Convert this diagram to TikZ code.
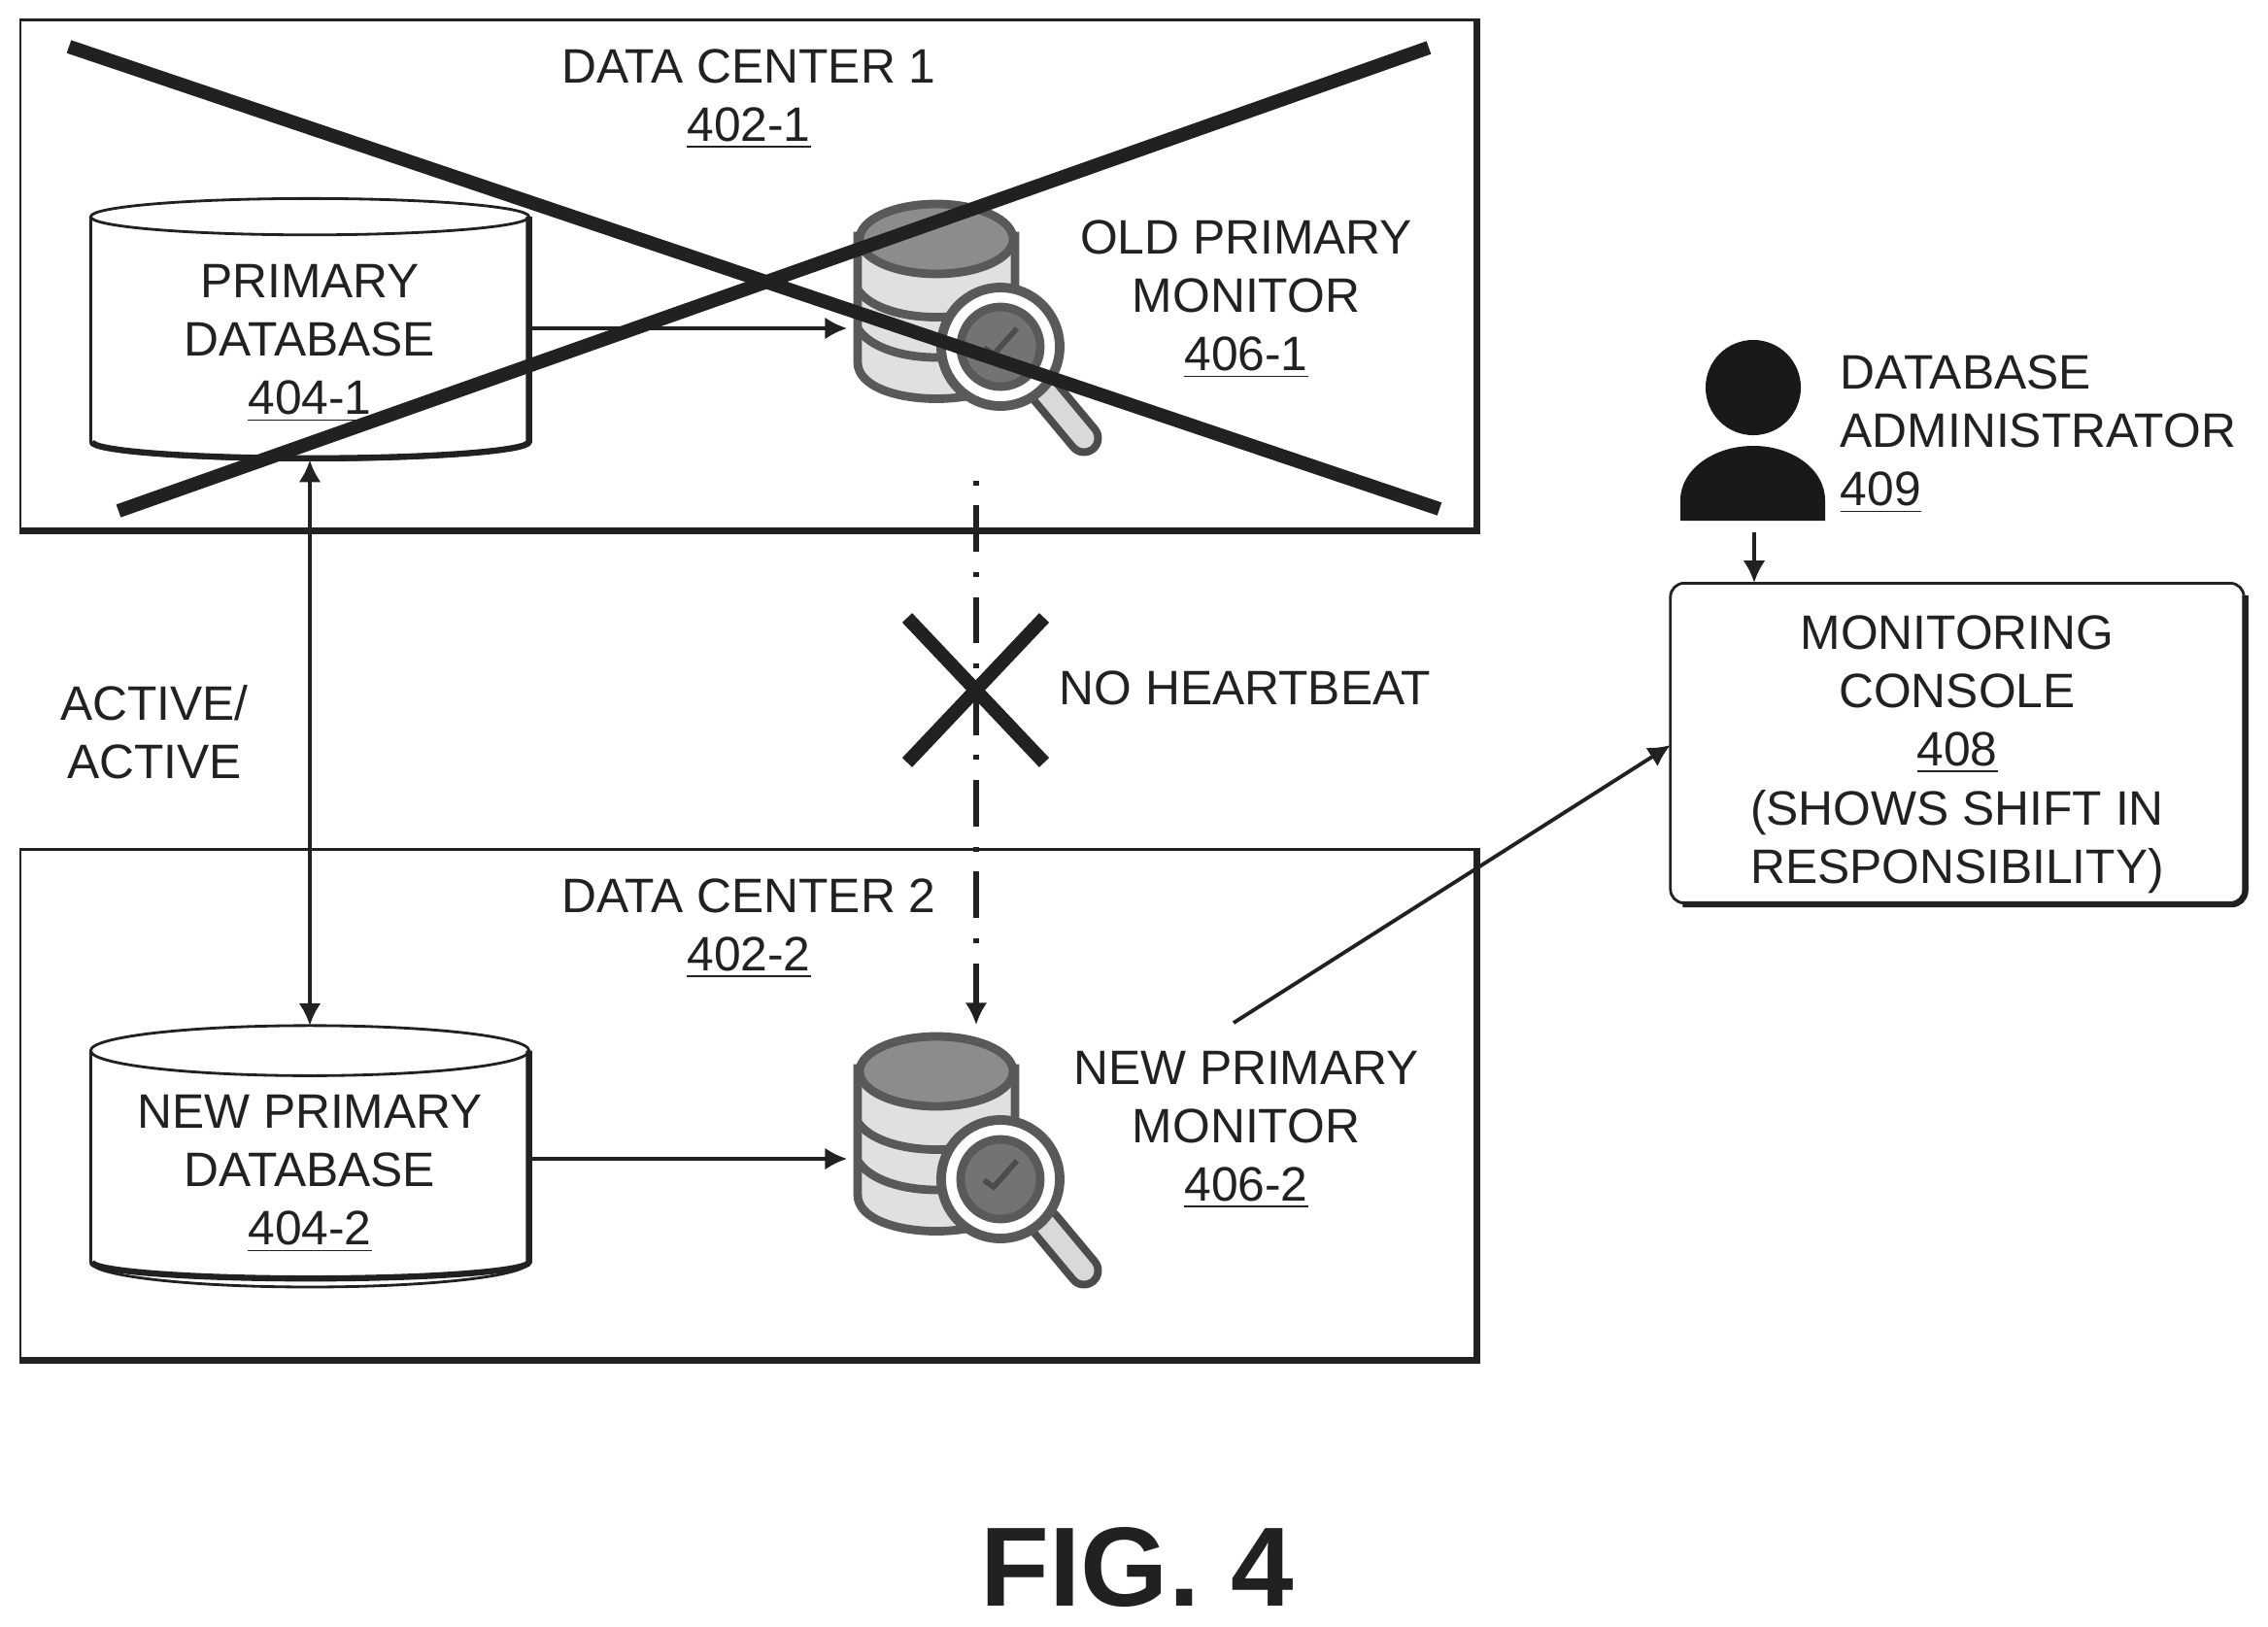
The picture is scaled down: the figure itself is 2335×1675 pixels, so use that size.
\documentclass[tikz,border=0pt]{standalone}
\usepackage{fontspec}
\setmainfont{Liberation Sans}
\usetikzlibrary{arrows.meta,shapes.geometric}
\definecolor{inkgray}{gray}{0.13}
\tikzset{
  txt/.style={font=\fontsize{14.15}{17.15}\selectfont,align=center,inner sep=0pt,text=inkgray},
  boxframe/.style={draw=inkgray,line width=.8pt,minimum width=14.97cm,minimum height=5.24cm,inner sep=0pt},
  heavyedge/.style={draw=inkgray,line width=1.8pt},
  dbcyl/.style={draw=inkgray,line width=.8pt,cylinder,shape border rotate=90,aspect=.145,minimum width=4.51cm,minimum height=2.69cm,inner sep=0pt,outer sep=0pt,fill=white,txt},
  ghost/.style={minimum width=2.64cm,minimum height=2.8cm,inner sep=0pt},
  flow/.style={draw=inkgray,line width=1.1pt,-{Latex[length=6.5pt,width=6.5pt]}},
  crossline/.style={draw=inkgray,line width=4pt},
  monitor/.pic={
    \draw[line width=10.5pt,draw=black!70,line cap=round] (193,195) -- (233,243);
    \draw[line width=6pt,draw=black!15,line cap=round] (193,195) -- (233,243);
    \draw[line width=2.5pt,draw=black!65,fill=black!12] (0,35) -- (0,165) .. controls (0,215) and (162,215) .. (162,165) -- (162,35) -- cycle;
    \draw[line width=2.5pt,draw=black!65] (0,90) .. controls (25,128) and (137,128) .. (162,90);
    \draw[line width=2.5pt,draw=black!65] (0,130) .. controls (25,170) and (137,170) .. (162,130);
    \draw[line width=2.5pt,draw=black!65,fill=black!45] (81,38) ellipse [x radius=79,y radius=36];
    \draw[line width=2.8pt,draw=black!65,fill=white] (147,149) circle [radius=61];
    \draw[line width=2.5pt,draw=black!65,fill=black!55] (147,149) circle [radius=41];
    \draw[line width=1.6pt,draw=black!70] (130,150) -- (140,157) -- (164,130);
  }
}
\begin{document}
\begin{tikzpicture}[x=.01cm,y=-.01cm]
  \useasboundingbox (0,0) rectangle (2335,1675);
  \node[boxframe] (center1) at (770,283) {};
  \node[boxframe] (center2) at (770,1137) {};
  \draw[heavyedge] (center1.north east) -- (center1.south east) -- (center1.south west);
  \draw[heavyedge] (center2.north east) -- (center2.south east) -- (center2.south west);
  \node[txt] (center1name) at (771,102) {DATA CENTER 1\\\underline{402-1}};
  \node[txt] (center2name) at (771,956) {DATA CENTER 2\\\underline{402-2}};
  \node[dbcyl] (db1) at (319,349) {\rule{0pt}{12.1pt}PRIMARY\\DATABASE\\\underline{404-1}};
  \node[dbcyl] (db2) at (319,1204) {\rule{0pt}{12.1pt}NEW PRIMARY\\DATABASE\\\underline{404-2}};
  \draw[heavyedge] (db1.after top) -- (db1.before bottom) arc[start angle=0,end angle=180,x radius=225,y radius=17];
  \draw[heavyedge] (db2.after top) -- (db2.before bottom) arc[start angle=0,end angle=180,x radius=225,y radius=17];
  \node[ghost] (mon1) at (1005,338) {};
  \node[ghost,minimum height=2.74cm] (mon2) at (1005,1193) {};
  \pic at (883,208) {monitor};
  \pic at (883,1065) {monitor};
  \node[txt] (mon1name) at (1283,308) {OLD PRIMARY\\MONITOR\\\underline{406-1}};
  \node[txt] (mon2name) at (1283,1163) {NEW PRIMARY\\MONITOR\\\underline{406-2}};
  \node[txt] (activename) at (159,754) {ACTIVE/\\ACTIVE};
  \node[txt] (beatname) at (1282,708) {NO HEARTBEAT};
  \node[draw=inkgray,line width=.8pt,rounded corners=.14cm,minimum width=5.9cm,minimum height=3.29cm,inner sep=0pt] (console) at (2015,765) {};
  \draw[heavyedge,rounded corners=.14cm] ([yshift=-.14cm]console.north east) -- (console.south east) -- ([xshift=.14cm]console.south west);
  \node[txt] (consolename) at (2015,776.5) {MONITORING\\CONSOLE\\\underline{408}\\(SHOWS SHIFT IN\\RESPONSIBILITY)};
  \node[fill=black!90,draw=none,circle,minimum size=.98cm,inner sep=0pt] (adminhead) at (1805,399) {};
  \fill[black!90] (1730,536) -- (1730,515) .. controls (1730,483) and (1765,459) .. (1805,459) .. controls (1845,459) and (1879,483) .. (1879,515) -- (1879,536) -- cycle;
  \node[txt,align=left,anchor=west] (adminname) at (1894,447) {DATABASE\\ADMINISTRATOR\\\underline{409}};
  \coordinate (newmonout) at (1270,1053);
  \coordinate (consolein) at (1720,767);
  \coordinate (adminout) at (1806,548);
  \coordinate (admintop) at (1806,600);
  \draw[flow] ([yshift=.11cm]db1.east) -- (mon1.west);
  \draw[flow] ([yshift=.11cm]db2.east) -- (mon2.west);
  \draw[flow,{Latex[length=6.5pt,width=6.5pt]}-{Latex[length=6.5pt,width=6.5pt]}] (db1.south) -- (db2.north);
  \draw[flow,line width=1.6pt,dash pattern=on 13.6pt off 5.9pt on 1.4pt off 5.9pt,dash phase=15pt] (mon1) -- (mon2);
  \draw[flow] (newmonout) -- (consolein);
  \draw[flow] (adminout) -- (admintop);
  \coordinate (crossa) at (71,48);
  \coordinate (crossb) at (1482,524);
  \coordinate (crossc) at (122,526);
  \coordinate (crossd) at (1471,49);
  \coordinate (beata) at (934,636);
  \coordinate (beatb) at (1075,785);
  \coordinate (beatc) at (1075,636);
  \coordinate (beatd) at (934,785);
  \draw[crossline] (crossa) -- (crossb);
  \draw[crossline] (crossc) -- (crossd);
  \draw[crossline] (beata) -- (beatb);
  \draw[crossline] (beatc) -- (beatd);
  \node[font=\fontsize{33}{38}\selectfont\bfseries,inner sep=0pt,text=inkgray] (figname) at (1171,1614) {FIG. 4};
\end{tikzpicture}
\end{document}
